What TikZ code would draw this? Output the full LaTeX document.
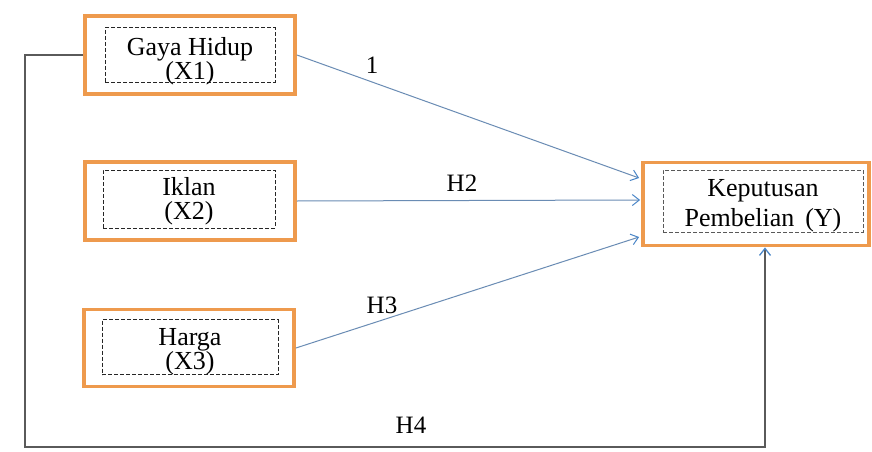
\documentclass[tikz,border=0pt]{standalone}
\usepackage{fontspec}
\setmainfont{Liberation Serif}
\usetikzlibrary{arrows.meta,positioning,calc}
\definecolor{boxorange}{HTML}{EE9A4D}
\definecolor{arrowblue}{HTML}{6A8CB4}
\definecolor{tipblue}{HTML}{4A86C8}
\definecolor{lineGray}{HTML}{5A5A5A}
\tikzset{
  outerbox/.style={draw=boxorange, line width=3.8pt, fill=white, minimum width=#1, minimum height=78pt, inner sep=0pt},
  outerbox/.default=210pt,
  innerbox/.style={draw=black!85, dash pattern=on 4pt off 2pt, line width=1pt, minimum height=54pt, inner sep=0pt},
  boxtext/.style={align=center, inner sep=0pt, font=\fontsize{26}{24}\selectfont},
  conn/.style={draw=arrowblue, line width=1pt, -{Straight Barb[length=7pt,width=11pt,color=tipblue]}},
  hline/.style={draw=lineGray, line width=1.3pt, -{Straight Barb[length=7pt,width=11pt,color=tipblue]}},
  lbl/.style={font=\fontsize{25}{25}\selectfont, inner sep=0pt}
}
\begin{document}
\begin{tikzpicture}[x=1pt,y=-1pt]
\useasboundingbox[fill=white] (0,0) rectangle (872,452);
% boxes
\node[outerbox] (x1) at (190,55) {};
\node[innerbox, minimum width=170pt] (x1in) at (190,55) {};
\node[boxtext] (x1t) at (190,61) {Gaya Hidup\\(X1)};
\node[outerbox] (x2) at (190,201) {};
\node[innerbox, minimum width=172pt, minimum height=58pt] (x2in) at (189,199) {};
\node[boxtext] (x2t) at (189,201) {Iklan\\(X2)};
\node[outerbox, minimum height=77pt] (x3) at (189,348) {};
\node[innerbox, minimum width=176pt, minimum height=55pt] (x3in) at (190,347) {};
\node[boxtext] (x3t) at (190,352) {Harga\\(X3)};
\node[outerbox=226pt, minimum height=83pt] (y) at (756,204) {};
\node[innerbox, minimum width=200pt, minimum height=62pt, draw=black!65] (yin) at (763,201) {};
\node[boxtext, font=\fontsize{26}{30}\selectfont] (yt) at (763,206) {Keputusan\\Pembelian \,(Y)};
% connector end coordinates on Y
\coordinate (y1) at ($(y.west)+(-2,-26)$);
\coordinate (y2) at ($(y.west)+(-1,-4)$);
\coordinate (y3) at ($(y.west)+(-2,33)$);
\coordinate (c1) at (25,55);
\coordinate (c2) at (25,447);
\coordinate (yb) at ($(y.south)+(9,0)$);
% connectors
\draw[conn] (x1.east) -- (y1);
\draw[conn] (x2.east) -- (y2);
\draw[conn] (x3.east) -- (y3);
\draw[hline] (x1.west) -- (c1) -- (c2) -| (yb);
% labels
\node[lbl] (l1) at (372,65) {1};
\node[lbl] (l2) at (462,183) {H2};
\node[lbl] (l3) at (382,305) {H3};
\node[lbl] (l4) at (411,425) {H4};
\end{tikzpicture}
\end{document}
